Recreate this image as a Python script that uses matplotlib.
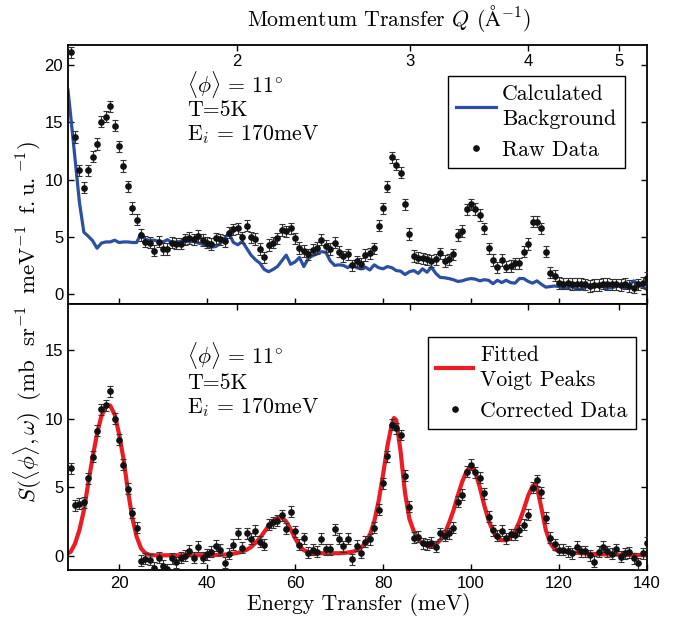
import matplotlib
matplotlib.use("Agg")
import matplotlib.pyplot as plt
from matplotlib.lines import Line2D

plt.rcParams['mathtext.fontset'] = 'cm'
plt.rcParams['font.family'] = ['Liberation Sans', 'DejaVu Sans']

# ---------------- data ----------------
energy = list(range(9, 141))  # meV

raw_data = [21.1, 13.7, 10.8, 9.3, 10.8, 12.0, 13.1, 15.05, 15.5, 16.4,
            14.7, 12.9, 11.2, 9.4, 7.5, 6.5, 5.15, 4.57, 4.5, 3.8,
            4.57, 3.93, 3.93, 4.5, 4.4, 4.4, 4.77, 4.9, 4.77, 5.07,
            4.7, 4.48, 4.37, 4.86, 4.77, 4.63, 5.36, 5.65, 5.73, 4.95,
            5.97, 4.95, 4.8, 3.92, 3.2, 4.3, 4.5, 4.85, 5.6, 5.47,
            5.73, 4.86, 4.02, 3.77, 3.47, 3.87, 4.03, 4.75, 4.2, 3.93,
            4.48, 3.7, 3.29, 3.47, 2.5, 2.86, 2.65, 3.4, 3.55, 3.99,
            5.97, 7.48, 9.37, 11.94, 11.3, 10.6, 7.83, 5.24, 3.32, 3.17,
            3.12, 3.03, 2.88, 3.03, 3.55, 2.88, 3.03, 3.46, 5.15, 5.5,
            7.39, 7.83, 7.42, 6.9, 5.73, 3.99, 2.97, 2.33, 2.97, 2.39,
            2.45, 2.68, 2.68, 3.7, 4.37, 6.32, 6.32, 5.73, 3.7, 1.86,
            1.6, 0.95, 0.9, 0.92, 0.88, 0.9, 0.9, 0.85, 0.72, 0.8,
            0.78, 0.9, 0.88, 0.85, 0.85, 0.8, 0.9, 0.7, 0.55, 0.85,
            1.0, 1.43]
raw_err = [0.5] * len(raw_data)

bg_energy = [8.4] + list(range(9, 141))
background = [17.8, 15.6, 11.8, 8.0, 5.4, 5.05, 4.65, 4.0, 4.45, 4.55,
              4.55, 4.7, 4.5, 4.55, 4.55, 4.5, 4.5, 5.3, 4.75, 4.7,
              4.7, 4.6, 4.55, 4.75, 4.5, 4.55, 4.6, 4.7, 4.55, 4.6,
              4.45, 4.35, 4.2, 4.1, 4.15, 4.4, 4.9, 5.3, 4.5, 4.3,
              4.6, 4.0, 3.4, 3.0, 2.7, 2.15, 1.95, 2.15, 2.4, 2.9,
              3.4, 2.6, 2.8, 3.2, 2.4, 3.1, 3.35, 3.5, 3.7, 3.65,
              2.9, 2.5, 2.55, 2.5, 2.3, 2.6, 2.3, 2.2, 2.35, 2.1,
              2.55, 2.3, 2.2, 2.4, 2.3, 2.05, 2.0, 1.7, 1.95, 2.05,
              1.8, 2.2, 1.9, 2.35, 1.8, 1.45, 1.42, 1.35, 1.25, 1.1,
              1.15, 1.28, 1.35, 1.3, 1.15, 1.25, 1.2, 0.9, 1.2, 1.0,
              1.2, 1.0, 0.95, 1.35, 1.35, 1.1, 0.95, 1.15, 0.85, 0.6,
              0.65, 0.7, 0.65, 0.5, 0.55, 0.65, 0.4, 0.4, 0.6, 0.7,
              0.75, 0.75, 0.65, 0.5, 0.55, 0.65, 0.75, 0.5, 0.8, 1.15,
              0.9, 0.6, 0.4]

corrected = [6.39, 3.69, 3.81, 3.93, 5.66, 7.23, 9.11, 10.67, 10.96, 12.0,
             10.0, 8.46, 6.65, 4.89, 3.13, 2.07, -0.34, -0.2, -0.29, -0.85,
             -0.12, -0.7, -0.95, -0.17, -0.44, -0.12, 0.02, 0.39, -0.12, 0.68,
             -0.12, 0.12, 0.32, 0.73, 0.44, -0.49, 0.15, 0.8, 1.65, 0.61,
             1.65, 1.24, 1.82, 1.04, 0.8, 2.26, 2.45, 2.55, 2.96, 1.97,
             3.23, 1.8, 0.82, 1.3, 0.25, 0.45, 0.3, 1.25, 0.49, 0.49,
             1.94, 1.25, 0.7, 1.27, -0.24, 0.74, 0.24, 1.04, 1.21, 2.06,
             3.35, 5.29, 7.28, 9.54, 9.3, 8.81, 5.83, 3.59, 1.33, 1.41,
             0.92, 0.85, 0.97, 0.68, 1.65, 1.46, 1.65, 2.06, 3.96, 4.47,
             6.14, 6.63, 6.09, 5.70, 4.56, 2.86, 1.89, 1.48, 1.82, 1.29,
             1.58, 1.53, 1.89, 2.26, 2.99, 4.98, 5.53, 4.64, 2.79, 1.33,
             0.85, 0.44, 0.44, 0.36, 0.19, 0.68, 0.36, 0.36, 0.07, -0.41,
             0.32, 0.68, 0.36, 0.15, 0.49, -0.05, 0.19, 0.27, -0.17, -0.53,
             0.19, 0.97]
corr_err = [0.4] * len(corrected)

fit_energy = ([8.4] + list(range(9, 18)) + [17.5] + list(range(18, 83)) + [82.5]
              + list(range(83, 115)) + [114.5] + list(range(115, 141)))
fit_curve = [0.2,
             0.3, 0.9, 1.9, 3.3, 5.3, 7.2, 8.9, 10.2, 10.85,
             10.98,
             10.95, 10.3, 8.9, 7.1, 4.8, 2.8, 1.4, 0.55, 0.2, 0.08,
             0.05, 0.05, 0.05, 0.05, 0.05, 0.05, 0.05, 0.05, 0.05, 0.05,
             0.05, 0.05, 0.05,
             0.06, 0.07, 0.08, 0.1, 0.13, 0.17, 0.23, 0.32, 0.45, 0.65,
             0.95, 1.3, 1.75, 2.2, 2.55, 2.78, 2.8, 2.5, 1.95, 1.3,
             0.75, 0.42, 0.28, 0.22,
             0.2, 0.2, 0.2, 0.2, 0.2, 0.2,
             0.22, 0.25, 0.3, 0.4, 0.6, 0.95, 1.5, 2.5, 4.0, 5.9, 8.0, 9.6,
             10.05,
             9.9, 7.6, 4.6, 2.7, 1.8, 1.2, 0.9, 0.75, 0.72, 0.85,
             1.15, 1.6, 2.4, 3.3, 4.4, 5.4, 6.2, 6.5, 6.1, 5.0,
             3.7, 2.6, 1.8, 1.35, 1.15, 1.15, 1.35, 1.8, 2.5, 3.4,
             4.4, 5.1,
             5.2,
             5.0, 3.5, 1.9, 0.95, 0.5, 0.35, 0.3, 0.27, 0.25, 0.23,
             0.2, 0.18, 0.16, 0.15, 0.13, 0.12, 0.11, 0.1, 0.1, 0.09,
             0.09, 0.08, 0.08, 0.07, 0.07, 0.07]

energy_ticks = [20, 40, 60, 80, 100, 120, 140]
q_tick_labels = ['2', '3', '4', '5']
q_tick_energy = [46.8, 86.1, 113.0, 133.6]

# ---------------- style ----------------
BLUE = '#2c4fa3'
RED = '#ec1c24'
SERIF = 'cmr10'
FS = 15.7
TICKFS = 12

fig = plt.figure(figsize=(6.74, 6.17), dpi=100)
ax1 = fig.add_axes([0.1009, 0.5073, 0.859, 0.4198])
ax2 = fig.add_axes([0.1009, 0.0762, 0.859, 0.4311])

for ax in (ax1, ax2):
    ax.set_xlim(8.4, 140)
    ax.set_xticks(energy_ticks)
    ax.tick_params(direction='in', length=4, width=1.0, labelsize=TICKFS,
                   right=True, top=False)
    for s in ax.spines.values():
        s.set_linewidth(1.3)

ax1.set_ylim(-0.87, 21.75)
ax1.set_yticks([0, 5, 10, 15, 20])
ax1.tick_params(labelbottom=False)
ax2.set_ylim(-1.02, 18.35)
ax2.set_yticks([0, 5, 10, 15])
ax2.tick_params(axis='x', pad=4)

# Q axes (top edges)
for ax, lab in ((ax1, True), (ax2, False)):
    tq = ax.twiny()
    tq.set_xlim(ax.get_xlim())
    tq.set_xticks(q_tick_energy)
    tq.set_xticklabels(q_tick_labels if lab else [])
    tq.tick_params(axis='x', direction='in', length=4, width=1.0,
                   labelsize=TICKFS, pad=-17 if lab else 2)
    for s in tq.spines.values():
        s.set_visible(False)

# ---- top panel ----
bg_line, = ax1.plot(bg_energy, background, color=BLUE, lw=2.3, zorder=2)
eb1 = ax1.errorbar(energy, raw_data, yerr=raw_err, fmt='o', color='#111111',
                   ms=3.8, ecolor='#333333', elinewidth=0.8, capsize=2.2,
                   capthick=0.8, zorder=3)

ax1.text(0.206, 0.846, r'$\langle\phi\rangle\,=\,11^{\circ}$', transform=ax1.transAxes,
         fontsize=FS, va='center', ha='left', family=SERIF)
ax1.text(0.206, 0.749, 'T=5K', transform=ax1.transAxes,
         fontsize=FS, va='center', ha='left', family=SERIF)
ax1.text(0.206, 0.653, r'E$_i$ = 170meV', transform=ax1.transAxes,
         fontsize=FS, va='center', ha='left', family=SERIF)

h_raw = Line2D([], [], ls='none', marker='o', ms=3.8, color='#111111')
leg1 = ax1.legend([bg_line, h_raw], ['Calculated\nBackground', 'Raw Data'],
                  loc='upper right', bbox_to_anchor=(0.962, 0.880),
                  prop={'family': SERIF, 'size': FS}, frameon=True,
                  fancybox=False, edgecolor='black', framealpha=1,
                  handlelength=1.8, handletextpad=0.3, borderpad=0.4,
                  labelspacing=0.5, borderaxespad=0)
leg1.get_frame().set_linewidth(1.0)

# ---- bottom panel ----
fit_line, = ax2.plot(fit_energy, fit_curve, color=RED, lw=3.0, zorder=2)
eb2 = ax2.errorbar(energy, corrected, yerr=corr_err, fmt='o', color='#111111',
                   ms=3.8, ecolor='#333333', elinewidth=0.8, capsize=2.2,
                   capthick=0.8, zorder=3)

ax2.text(0.206, 0.808, r'$\langle\phi\rangle\,=\,11^{\circ}$', transform=ax2.transAxes,
         fontsize=FS, va='center', ha='left', family=SERIF)
ax2.text(0.206, 0.703, 'T=5K', transform=ax2.transAxes,
         fontsize=FS, va='center', ha='left', family=SERIF)
ax2.text(0.206, 0.609, r'E$_i$ = 170meV', transform=ax2.transAxes,
         fontsize=FS, va='center', ha='left', family=SERIF)

h_corr = Line2D([], [], ls='none', marker='o', ms=3.8, color='#111111')
leg2 = ax2.legend([fit_line, h_corr], ['Fitted\nVoigt Peaks', 'Corrected Data'],
                  loc='upper right', bbox_to_anchor=(0.981, 0.876),
                  prop={'family': SERIF, 'size': FS}, frameon=True,
                  fancybox=False, edgecolor='black', framealpha=1,
                  handlelength=1.7, handletextpad=0.3, borderpad=0.4,
                  labelspacing=0.5, borderaxespad=0)
leg2.get_frame().set_linewidth(1.0)

for leg in (leg1, leg2):
    for t in leg.get_texts():
        t.set_linespacing(1.35)

# ---- axis titles ----
fig.text(389 / 674, 1 - 18 / 617, r'Momentum Transfer $Q$ ($\mathrm{\AA}^{-1}$)',
         fontsize=FS, family=SERIF, ha='center', va='center')
fig.text(359 / 674, 1 - 605 / 617, 'Energy Transfer (meV)',
         fontsize=FS, family=SERIF, ha='center', va='center')
fig.text(28 / 674, 1 - 322 / 617,
         r'$S(\langle\phi\rangle,\omega)\;\;(\mathrm{mb\ \ sr}^{-1}\;\;\mathrm{meV}^{-1}\;\;\mathrm{f.u.}^{-1})$',
         fontsize=16.5, rotation=90, ha='center', va='center')

fig.savefig('out.png', dpi=100)
